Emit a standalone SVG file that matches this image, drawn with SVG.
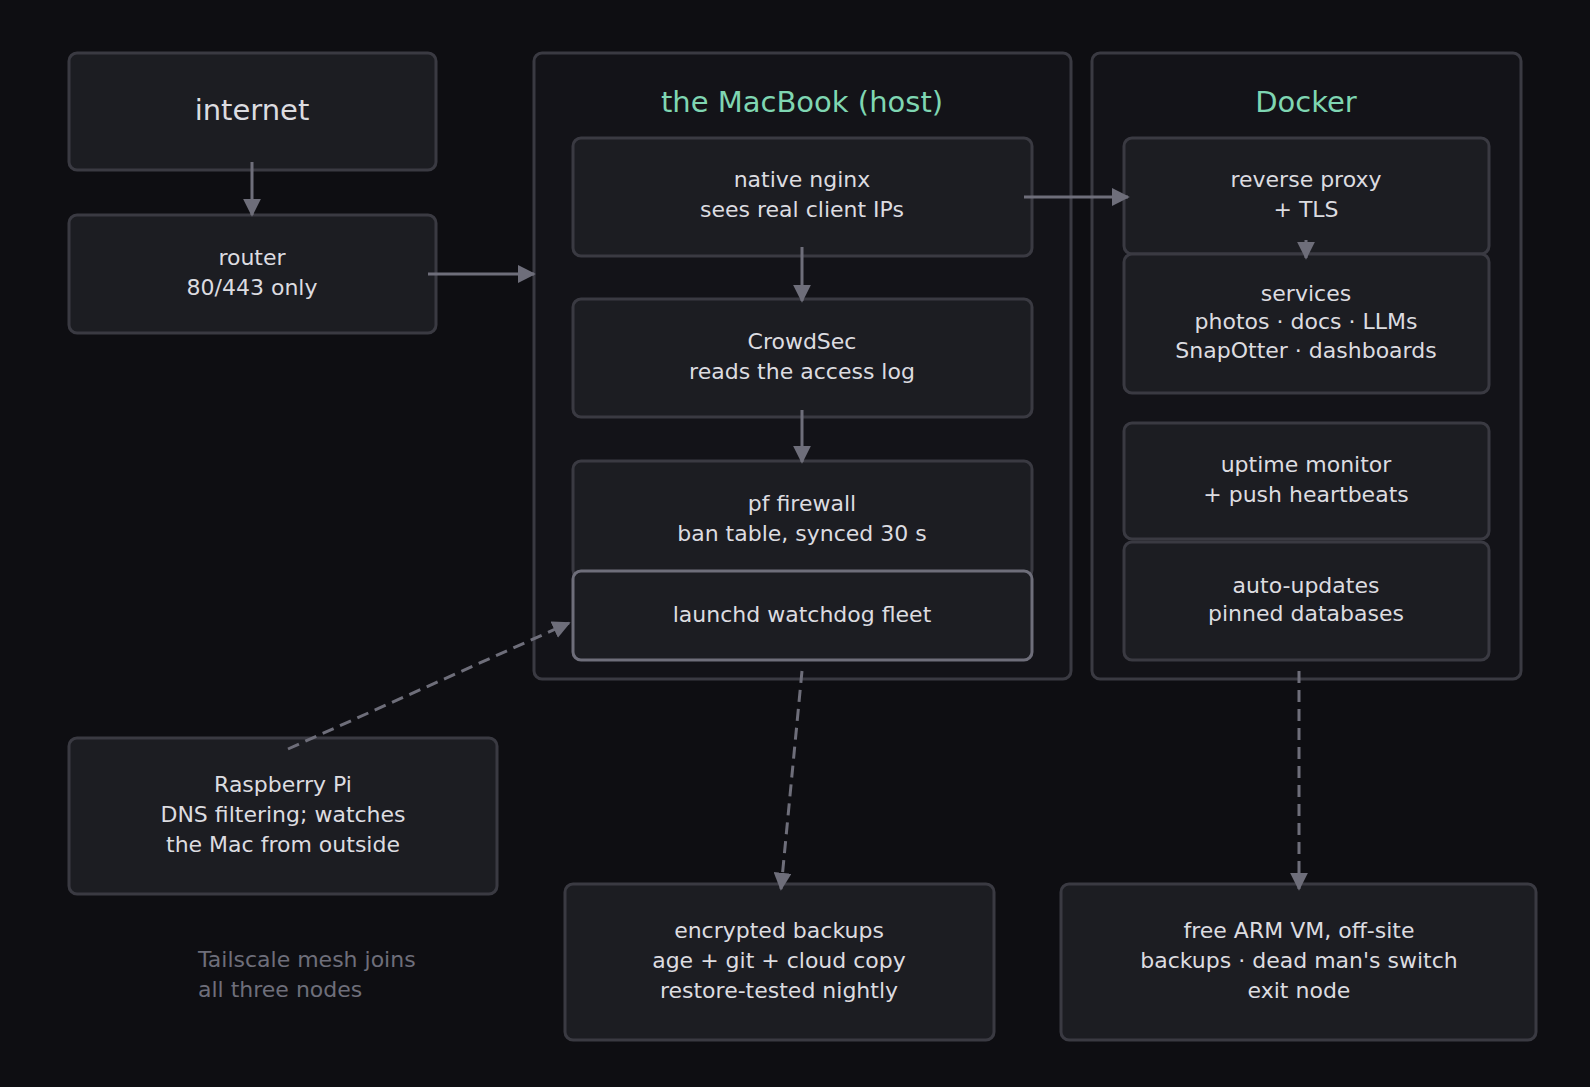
<svg xmlns="http://www.w3.org/2000/svg" width="1590" height="1087" viewBox="0 0 1590 1087">
<style>
.n{fill:#1c1d22;stroke:#3a3a42;stroke-width:3}
.c{fill:#131318;stroke:#3a3a42;stroke-width:3}
.t{font-family:"DejaVu Sans",sans-serif;font-size:22px;fill:#dcdce0;text-anchor:middle}
.h{font-family:"DejaVu Sans",sans-serif;font-size:29px;fill:#7fd6b2;text-anchor:middle}
.a{stroke:#6e6e7a;stroke-width:3;fill:none;marker-end:url(#m)}
.d{stroke-dasharray:12 7}
</style>
<defs><marker id="m" viewBox="0 0 10 10" refX="9" refY="5" markerWidth="6" markerHeight="6" orient="auto"><path d="M0 0L10 5L0 10z" fill="#6e6e7a"/></marker></defs>
<rect width="1590" height="1087" fill="#0e0e12"/>
<g id="mac"><rect class="c" x="534" y="53" width="537" height="626" rx="8"/><text class="h" x="802" y="112">the MacBook (host)</text></g>
<g id="docker"><rect class="c" x="1092" y="53" width="429" height="626" rx="8"/><text class="h" x="1306" y="112">Docker</text></g>
<g id="internet"><rect class="n" x="69" y="53" width="367" height="117" rx="8"/><text class="t" x="252" y="120" style="font-size:29px">internet</text></g>
<g id="router"><rect class="n" x="69" y="215" width="367" height="118" rx="8"/><text class="t" x="252" y="265">router</text><text class="t" x="252" y="295">80/443 only</text></g>
<g id="nginx"><rect class="n" x="573" y="138" width="459" height="118" rx="8"/><text class="t" x="802" y="187">native nginx</text><text class="t" x="802" y="217">sees real client IPs</text></g>
<g id="crowdsec"><rect class="n" x="573" y="299" width="459" height="118" rx="8"/><text class="t" x="802" y="349">CrowdSec</text><text class="t" x="802" y="379">reads the access log</text></g>
<g id="pf"><rect class="n" x="573" y="461" width="459" height="117" rx="8"/><text class="t" x="802" y="511">pf firewall</text><text class="t" x="802" y="541">ban table, synced 30 s</text></g>
<g id="launchd"><rect class="n" x="573" y="571" width="459" height="89" rx="8" style="stroke:#6e6e7a"/><text class="t" x="802" y="622">launchd watchdog fleet</text></g>
<g id="proxy"><rect class="n" x="1124" y="138" width="365" height="116" rx="8"/><text class="t" x="1306" y="187">reverse proxy</text><text class="t" x="1306" y="217">+ TLS</text></g>
<g id="services"><rect class="n" x="1124" y="254" width="365" height="139" rx="8"/><text class="t" x="1306" y="301">services</text><text class="t" x="1306" y="329">photos · docs · LLMs</text><text class="t" x="1306" y="358">SnapOtter · dashboards</text></g>
<g id="uptime"><rect class="n" x="1124" y="423" width="365" height="116" rx="8"/><text class="t" x="1306" y="472">uptime monitor</text><text class="t" x="1306" y="502">+ push heartbeats</text></g>
<g id="updates"><rect class="n" x="1124" y="542" width="365" height="118" rx="8"/><text class="t" x="1306" y="593">auto-updates</text><text class="t" x="1306" y="621">pinned databases</text></g>
<g id="pi"><rect class="n" x="69" y="738" width="428" height="156" rx="8"/><text class="t" x="283" y="792">Raspberry Pi</text><text class="t" x="283" y="822">DNS filtering; watches</text><text class="t" x="283" y="852">the Mac from outside</text></g>
<g id="backups"><rect class="n" x="565" y="884" width="429" height="156" rx="8"/><text class="t" x="779" y="938">encrypted backups</text><text class="t" x="779" y="968">age + git + cloud copy</text><text class="t" x="779" y="998">restore-tested nightly</text></g>
<g id="arm"><rect class="n" x="1061" y="884" width="475" height="156" rx="8"/><text class="t" x="1299" y="938">free ARM VM, off-site</text><text class="t" x="1299" y="968">backups · dead man's switch</text><text class="t" x="1299" y="998">exit node</text></g>
<g id="note"><text class="t" x="198" y="967" style="text-anchor:start;fill:#6e6e7a">Tailscale mesh joins</text><text class="t" x="198" y="997" style="text-anchor:start;fill:#6e6e7a">all three nodes</text></g>
<g id="connectors">
<path class="a" d="M252 162V215"/>
<path class="a" d="M428 274H534"/>
<path class="a" d="M1024 197H1128"/>
<path class="a" d="M802 247V301"/>
<path class="a" d="M802 410V462"/>
<path class="a" d="M1306 240V258"/>
<path class="a d" d="M288 749L569 623"/>
<path class="a d" d="M802 671L781 889"/>
<path class="a d" d="M1299 671V889"/>
</g>
</svg>
